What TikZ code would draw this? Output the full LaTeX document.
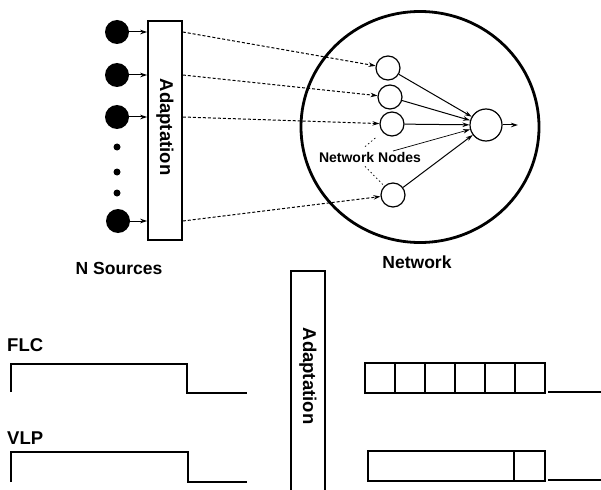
\documentclass[tikz,border=0pt]{standalone}
\usepackage{fontspec}
\setmainfont{Liberation Sans}
\usetikzlibrary{arrows.meta,shapes.geometric}
\begin{document}
\begin{tikzpicture}[x=1pt,y=-1pt,
  lbl/.style={font=\bfseries\fontsize{17.5}{20}\selectfont, inner sep=0pt},
  wlbl/.style={font=\bfseries\fontsize{18.5}{20}\selectfont, inner sep=0pt},
  biglbl/.style={font=\bfseries\fontsize{18.5}{20}\selectfont, inner sep=0pt},
  smalllbl/.style={font=\bfseries\fontsize{14}{16}\selectfont, inner sep=0pt},
  src/.style={circle, fill=black, minimum size=24pt, inner sep=0pt},
  dotn/.style={circle, fill=black, minimum size=7pt, inner sep=0pt},
  adbox/.style={draw, line width=1.6pt, minimum width=34pt, inner sep=0pt},
  nn/.style={circle, draw, line width=1.2pt, minimum size=24pt, inner sep=0pt},
  conn/.style={-{Stealth[length=7pt,width=4.5pt]}, line width=1pt},
  dconn/.style={conn, dash pattern=on 3pt off 2pt},
  ptr/.style={line width=0.7pt, dash pattern=on 1.5pt off 2.5pt},
  wave/.style={line width=1.6pt},
  cell/.style={draw, line width=1.6pt, minimum height=30pt, inner sep=0pt},
]
\useasboundingbox (0,0) rectangle (601,489);

% sources
\node[src] (s1) at (117,32) {};
\node[src] (s2) at (117,75) {};
\node[src] (s3) at (117,117) {};
\node[dotn] (d1) at (117,147) {};
\node[dotn] (d2) at (117,172) {};
\node[dotn] (d3) at (117,193) {};
\node[src] (s4) at (118,221) {};

% adaptation box (top)
\node[adbox, minimum height=219pt] (ad1) at (165,130.5) {};
\node[biglbl, rotate=-90] (ad1t) at (165,127) {Adaptation};

\foreach \s in {s1,s2,s3,s4}{
  \draw[conn] (\s) -- (\s -| ad1.west);
}

% network
\node[draw, ellipse, line width=2.8pt, minimum width=238pt, minimum height=231pt, inner sep=0pt] (net) at (420,127) {};
\node[nn] (n1) at (388,68) {};
\node[nn] (n2) at (390,97) {};
\node[nn] (n3) at (392,124) {};
\node[nn] (n4) at (393,195) {};
\node[nn, minimum size=32pt] (o) at (486,125) {};
\coordinate (oout) at (518,125);

\draw[dconn] (s1 -| ad1.east) -- (n1);
\draw[dconn] (s2 -| ad1.east) -- (n2);
\draw[dconn] (s3 -| ad1.east) -- (n3);
\draw[dconn] (s4 -| ad1.east) -- (n4);

\foreach \n in {n1,n2,n3,n4}{
  \draw[conn] (\n) -- (o);
}
\draw[conn] (o) -- (oout);

\node[smalllbl] (nnl) at (370,157) {Network Nodes};
\coordinate (hid) at (393,151);
\draw[conn, line width=0.7pt] (hid) -- (o);
\draw[ptr, shorten >=8pt] ([xshift=-5pt,yshift=5pt]nnl.north) -- (n3);
\draw[ptr] ([xshift=-5pt,yshift=-4pt]nnl.south) -- (n4);

\node[lbl] (nsrc) at (119,268) {N Sources};
\node[lbl] (netl) at (417,262) {Network};

% bottom part
\node[wlbl, anchor=west] (flc) at (7,345) {FLC};
\node[wlbl, anchor=west] (vlp) at (7,438) {VLP};
\draw[wave] (11,392) -- (11,364) -- (187,364) -- (187,393) -- (247,393);
\draw[wave] (11,482) -- (11,452) -- (188,452) -- (188,482) -- (247,482);

\draw[line width=1.6pt] (291,495) -- (291,271) -- (325,271) -- (325,495);
\node[biglbl, rotate=-90] (ad2t) at (308,376) {Adaptation};

\foreach \i in {0,...,5}{
  \node[cell, minimum width=30pt, anchor=north west] (c\i) at (364+30*\i,362) {};
}
\draw[wave] (548,392) -- (601,392);

\node[cell, minimum width=146pt, anchor=north west] (v1) at (367,450) {};
\node[cell, minimum width=31pt, anchor=north west] (v2) at (513,450) {};
\draw[wave] (548,480) -- (601,480);
\end{tikzpicture}
\end{document}
